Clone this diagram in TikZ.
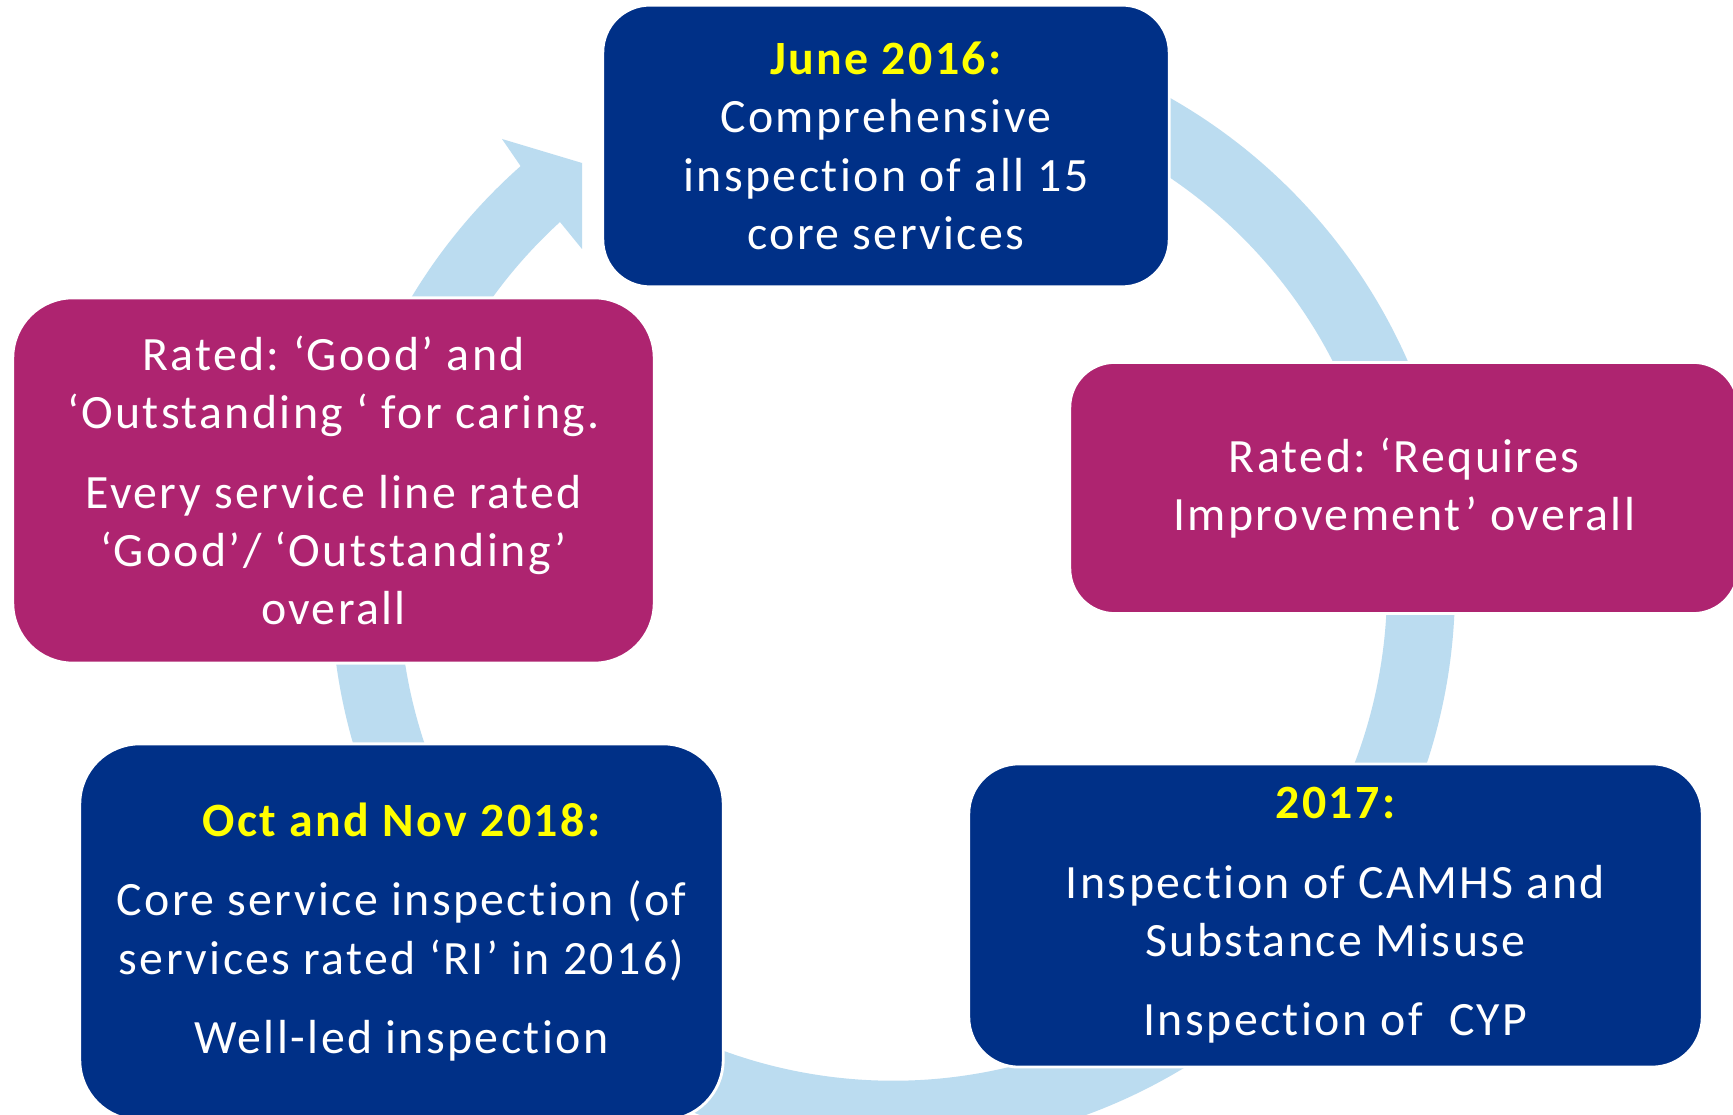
\documentclass[tikz,border=0pt]{standalone}
\usepackage{fontspec}
\setmainfont{Carlito}[LetterSpace=5,Ligatures=NoCommon]
\usepackage{xcolor}
\usetikzlibrary{positioning}
\definecolor{cqcblue}{RGB}{0,48,135}
\definecolor{cqcpink}{RGB}{174,36,112}
\definecolor{cyclebg}{RGB}{187,220,240}
\definecolor{dateyellow}{RGB}{255,255,0}
\newcommand{\when}[1]{{\color{dateyellow}\bfseries #1}}
\frenchspacing

\begin{document}
\begin{tikzpicture}[x=0.01cm,y=0.01cm,
    box/.style={draw=white,line width=0.8pt,text=white,align=center,inner sep=0pt,
      font=\fontsize{13.6}{16.6}\selectfont},
    bluebox/.style={box,fill=cqcblue},
    pinkbox/.style={box,fill=cqcpink}]
        \fill[white](0,0) rectangle (1733,1115);
        \useasboundingbox (0,0) rectangle (1733,1115);
        \fill[cyclebg](893,1090) arc[start angle=90,end angle=-228.5,radius=562]
          --(502,976)--(582,952)--(582,866)--(560,893)
          arc[start angle=-227.6,end angle=90,radius=494]--cycle;
        \node[bluebox,rounded corners=0.47cm,minimum width=5.66cm,minimum height=2.815cm] (june) at (886,969)
          {\when{June 2016:}\\Comprehensive\\inspection of all 15\\core services};
        \node[pinkbox,rounded corners=0.45cm,minimum width=6.68cm,minimum height=2.51cm] (req) at (1404,627)
          {Rated: ‘Requires\\Improvement’ overall};
        \node[bluebox,rounded corners=0.5cm,minimum width=7.33cm,minimum height=3.03cm] (y2017) at (1335.5,199.5)
          {\when{2017:}\\[6pt]Inspection of CAMHS and\\Substance Misuse\\[6pt]Inspection of\ \ CYP};
        \node[bluebox,rounded corners=0.6cm,minimum width=6.43cm,minimum height=3.76cm] (oct) at (401.5,183)
          {\when{Oct and Nov 2018:}\\[6pt]Core service inspection (of\\services rated ‘RI’ in 2016)\\[6pt]Well-led inspection};
        \node[pinkbox,rounded corners=0.6cm,minimum width=6.41cm,minimum height=3.65cm] (good) at (333.5,634.5)
          {Rated: ‘Good’ and\\‘Outstanding ‘ for caring.\\[6pt]Every service line rated\\‘Good’/ ‘Outstanding’\\overall};
      \end{tikzpicture}
\end{document}
